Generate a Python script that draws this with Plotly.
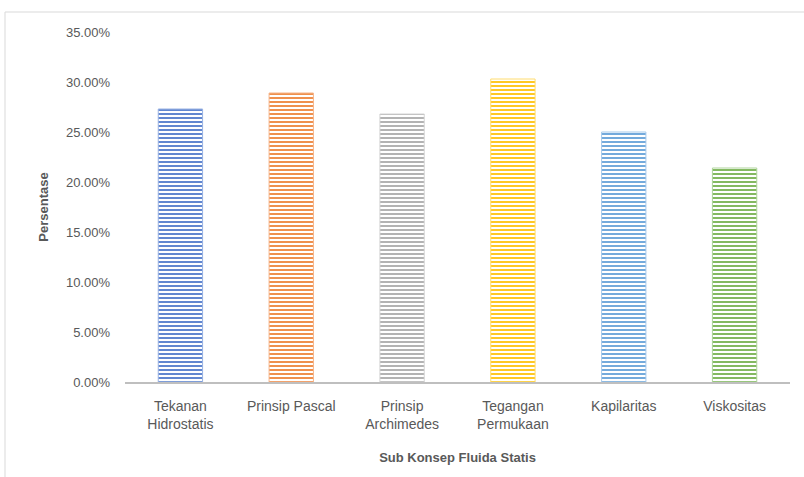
import plotly.graph_objects as go

categories = ["Tekanan<br>Hidrostatis", "Prinsip Pascal", "Prinsip<br>Archimedes",
              "Tegangan<br>Permukaan", "Kapilaritas", "Viskositas"]
values = [0.273, 0.289, 0.268, 0.303, 0.250, 0.214]
colors = ["#5079CB", "#EE8339", "#AAAAAA", "#FFC30A", "#63A0D8", "#76B14F"]
stripe_colors = ["#9AB3E3", "#F6B58A", "#D5D5D5", "#FFDC6E", "#A6CAEB", "#AED49A"]

fig = go.Figure()
fig.add_trace(go.Bar(
    x=categories, y=values,
    width=0.4,
    marker=dict(
        color=colors,
        line=dict(color=stripe_colors, width=1),
        pattern=dict(shape="-", bgcolor=colors, fgcolor=stripe_colors, size=4,
                     solidity=0.45, fillmode="replace"),
    ),
    hoverinfo="x+y",
))

W, H = 804, 477
ml, mr, mt, mb = 125, 14, 32, 95
pw, ph = W - ml - mr, H - mt - mb

fig.update_layout(
    width=W, height=H,
    margin=dict(l=ml, r=mr, t=mt, b=mb),
    paper_bgcolor="white", plot_bgcolor="white",
    font=dict(family="Liberation Sans, Arial, sans-serif", size=13, color="#595959"),
    showlegend=False,
    bargap=0.6,
    xaxis=dict(
        showgrid=False, showline=True, linecolor="#BFBFBF", linewidth=1.5,
        ticks="", ticklabelstandoff=10, tickfont=dict(size=14, color="#595959"),
        title=dict(text="<b>Sub Konsep Fluida Statis</b>", font=dict(size=13, color="#595959"), standoff=22),
    ),
    yaxis=dict(
        range=[0, 0.35], dtick=0.05, tickformat=".2%",
        showgrid=False, zeroline=False, showline=False, ticks="",
        ticklabelstandoff=14,
        tickfont=dict(size=13, color="#595959"),
        title=dict(text="<b>Persentase</b>", font=dict(size=13, color="#595959"), standoff=14),
    ),
    shapes=[dict(
        type="rect", xref="paper", yref="paper",
        x0=(5 - ml) / pw, x1=(W + 5 - ml) / pw,
        y0=(mt + ph - (H + 5)) / ph, y1=(mt + ph - 12) / ph,
        line=dict(color="#D9D9D9", width=1), fillcolor="rgba(0,0,0,0)", layer="below",
    )],
)

fig.write_html("out.html")
